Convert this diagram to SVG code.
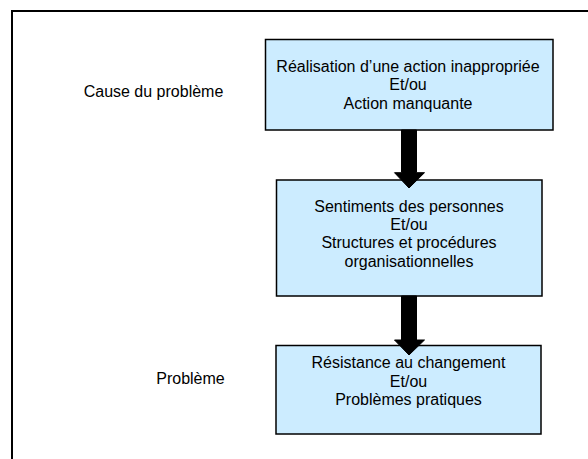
<svg xmlns="http://www.w3.org/2000/svg" width="588" height="459" viewBox="0 0 588 459">
<style>
.box{fill:#CCECFF;stroke:#000;stroke-width:1.5}
.t{font-family:"Liberation Sans",Arial,sans-serif;font-size:16px;fill:#000;text-anchor:middle}
.arr{fill:#000;stroke:#000;stroke-width:1}
</style>
<rect x="0" y="0" width="588" height="459" fill="#fff"/>
<rect x="12" y="11" width="600" height="470" fill="none" stroke="#000" stroke-width="2"/>
<g id="label-cause"><text class="t" x="153.5" y="97">Cause du problème</text></g>
<g id="label-probleme"><text class="t" x="190.5" y="384">Problème</text></g>
<g id="node1">
<rect class="box" x="265.5" y="39.5" width="287.5" height="90.5"/>
<text class="t" x="408" y="72">Réalisation d’une action inappropriée</text>
<text class="t" x="408" y="90.4">Et/ou</text>
<text class="t" x="408" y="108.8">Action manquante</text>
</g>
<g id="node2">
<rect class="box" x="276.5" y="180" width="265.5" height="116"/>
<text class="t" x="409" y="211.5">Sentiments des personnes</text>
<text class="t" x="409" y="229.9">Et/ou</text>
<text class="t" x="409" y="248.3">Structures et procédures</text>
<text class="t" x="409" y="266.7">organisationnelles</text>
</g>
<g id="node3">
<rect class="box" x="276" y="345.5" width="265" height="88.5"/>
<text class="t" x="408.5" y="368.3">Résistance au changement</text>
<text class="t" x="408.5" y="386.7">Et/ou</text>
<text class="t" x="408.5" y="405.1">Problèmes pratiques</text>
</g>
<g id="connectors">
<polygon class="arr" points="401.5,130 416.5,130 416.5,172.7 424.5,172.7 409,188 394.5,172.7 401.5,172.7"/>
<polygon class="arr" points="401.5,296 416.5,296 416.5,340 424.5,340 409,355 394.5,340 401.5,340"/>
</g>
</svg>
